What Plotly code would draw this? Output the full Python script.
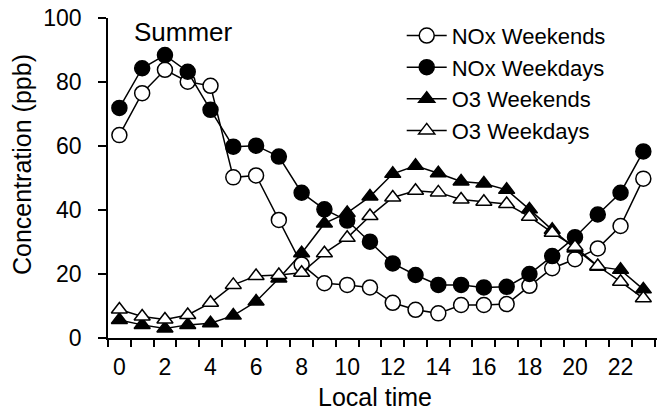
import plotly.graph_objects as go

hours = list(range(24))
x_tick_vals = list(range(0, 24, 2))
y_tick_vals = [0, 20, 40, 60, 80, 100]

nox_weekends = [63.4, 76.5, 83.8, 80.1, 78.8, 50.2, 50.8, 36.9, 23.0, 17.1, 16.6, 15.8,
                11.0, 8.8, 7.7, 10.3, 10.3, 10.6, 16.3, 21.8, 24.6, 28.0, 35.0, 49.8]
nox_weekdays = [71.9, 84.3, 88.4, 83.2, 71.3, 59.8, 60.1, 56.7, 45.4, 40.2, 36.7, 30.1,
                23.3, 19.7, 16.6, 16.6, 15.8, 16.0, 20.0, 25.6, 31.5, 38.6, 45.4, 58.3]
o3_weekends = [5.6, 4.1, 3.0, 4.1, 4.6, 7.0, 11.4, 18.6, 26.5, 35.8, 39.1, 44.2,
               51.3, 53.8, 51.5, 48.9, 48.3, 46.3, 40.2, 33.8, 28.0, 22.3, 21.3, 15.2]
o3_weekdays = [8.9, 6.7, 5.8, 7.2, 11.0, 16.6, 19.4, 19.7, 20.4, 26.5, 31.3, 38.1,
               43.9, 46.0, 45.5, 43.3, 42.6, 41.9, 37.9, 32.9, 28.5, 22.5, 17.6, 12.4]

series = [
    ("NOx Weekends", nox_weekends, "circle-open"),
    ("NOx Weekdays", nox_weekdays, "circle"),
    ("O3 Weekends", o3_weekends, "triangle-up"),
    ("O3 Weekdays", o3_weekdays, "triangle-up-open"),
]

fig = go.Figure()
for name, vals, sym in series:
    filled = "open" not in sym
    fig.add_trace(go.Scatter(
        x=hours, y=vals, name=name, mode="lines+markers",
        line=dict(color="black", width=1.5),
        marker=dict(symbol=sym.replace("-open", ""), size=15 if "circle" in sym else 14,
                    color="black" if filled else "white",
                    line=dict(color="black", width=1.5)),
    ))

font_family = "Liberation Sans, Arial, sans-serif"
fig.update_layout(
    width=659, height=414,
    margin=dict(l=108, r=2, t=18, b=76),
    paper_bgcolor="white", plot_bgcolor="white",
    font=dict(family=font_family, color="black", size=22),
    showlegend=True,
    legend=dict(x=0.535, y=1.01, xanchor="left", yanchor="top",
                font=dict(size=22), bgcolor="rgba(0,0,0,0)",
                itemwidth=40, tracegroupgap=0),
    xaxis=dict(range=[-0.5, 23.6], tickvals=x_tick_vals, ticks="",
               showline=True, linecolor="black", linewidth=1.5,
               showgrid=False, zeroline=False,
               ticklabelstandoff=8,
               minor=dict(ticks="outside", tick0=-0.5, dtick=1, ticklen=7,
                          tickcolor="black", tickwidth=1.5, showgrid=False),
               tickfont=dict(size=23)),
    yaxis=dict(range=[0, 100], tickvals=y_tick_vals, ticks="outside", ticklen=8,
               tickwidth=1.5, tickcolor="black",
               showline=True, linecolor="black", linewidth=1.5,
               showgrid=False, zeroline=False, ticklabelstandoff=12,
               tickfont=dict(size=23)),
    annotations=[
        dict(text="Summer", xref="paper", yref="paper", x=0.043, y=0.955,
             xanchor="left", yanchor="middle", showarrow=False,
             font=dict(size=26)),
        dict(text="Local time", xref="paper", yref="paper", x=(375 - 108) / 549,
             y=-(397 - 338) / 320, xanchor="center", yanchor="middle",
             showarrow=False, font=dict(size=25)),
        dict(text="Concentration (ppb)", xref="paper", yref="paper",
             x=-(108 - 22) / 549, y=(338 - 165) / 320, xanchor="center",
             yanchor="middle", textangle=-90, showarrow=False,
             font=dict(size=25)),
    ],
)

fig.write_html("out.html")
